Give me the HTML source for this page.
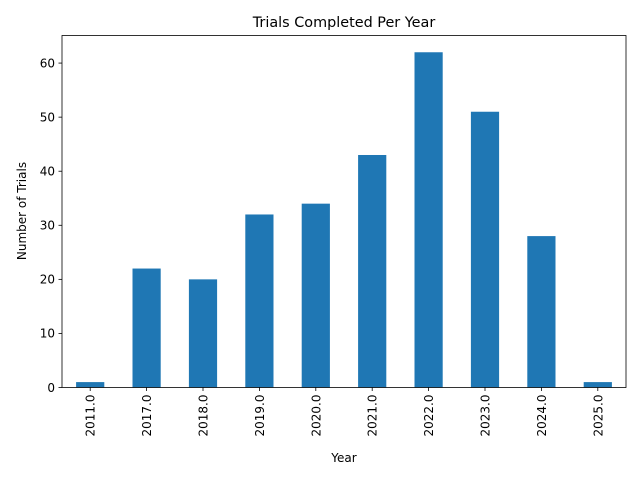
<!DOCTYPE html>
<html><head><meta charset="utf-8"><style>
body{margin:0;background:#fff;font-family:"Liberation Sans","DejaVu Sans",sans-serif;}
svg text{font-family:"DejaVu Sans","Liberation Sans",sans-serif;}
</style></head><body>
<svg id="chart" width="640" height="480" xmlns="http://www.w3.org/2000/svg">
<rect width="640" height="480" fill="#fff"/>
<text x="344" y="27" font-size="14.4" text-anchor="middle">Trials Completed Per Year</text>
<g id="bars"></g><g id="yticks"></g><g id="xticks"></g>
<rect x="62" y="35.5" width="564" height="352" fill="none" stroke="#000" stroke-width="0.8"/>
<text x="344" y="462" font-size="12" text-anchor="middle">Year</text>
<text x="0" y="0" font-size="12" text-anchor="middle" transform="translate(26,211) rotate(-90)">Number of Trials</text>
</svg>
<script>
const categories=["2011.0","2017.0","2018.0","2019.0","2020.0","2021.0","2022.0","2023.0","2024.0","2025.0"];
const values=[1,22,20,32,34,43,62,51,28,1];
const yTicks=[0,10,20,30,40,50,60];
const L=62,R=626,T=35.5,B=387.5;
const yMax=Math.max(...values)*1.05;
const y=v=>B-(v/yMax)*(B-T);
const step=(R-L)/categories.length;
const x=i=>L+step*(i+0.5);
const ns="http://www.w3.org/2000/svg";
function mk(tag,attrs,parent){const e=document.createElementNS(ns,tag);for(const k in attrs)e.setAttribute(k,attrs[k]);parent.appendChild(e);return e;}
const bars=document.getElementById('bars'),yt=document.getElementById('yticks'),xt=document.getElementById('xticks');
values.forEach((v,i)=>{
 const r=mk('rect',{x:x(i)-step*0.25,y:y(v),width:step*0.5,height:B-y(v),fill:'#1f77b4'},bars);
 
 
 mk('line',{x1:x(i),x2:x(i),y1:B,y2:B+3.5,stroke:'#000','stroke-width':0.8},xt);
 const t=mk('text',{x:0,y:0,'font-size':12,'text-anchor':'end',transform:`translate(${x(i)+4.5},${B+7}) rotate(-90)`},xt);
 t.textContent=categories[i];
 
 
});
yTicks.forEach(v=>{
 mk('line',{x1:L-3.5,x2:L,y1:y(v),y2:y(v),stroke:'#000','stroke-width':0.8},yt);
 const t=mk('text',{x:L-7,y:y(v)+4.3,'font-size':12,'text-anchor':'end'},yt);
 t.textContent=v;
 
 
});
</script>
</body></html>
